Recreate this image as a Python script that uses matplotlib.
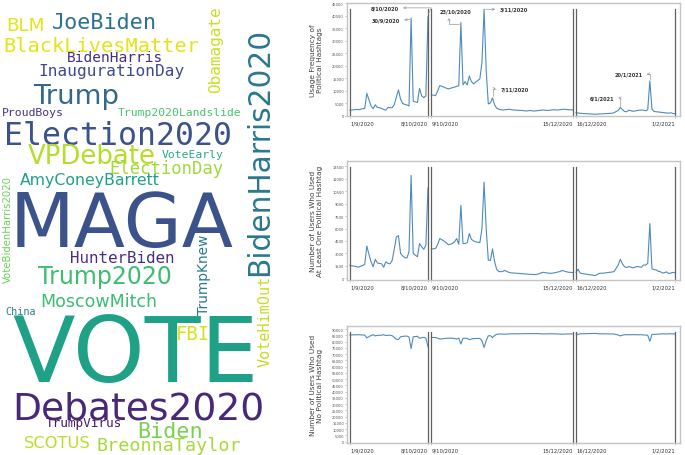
import matplotlib
matplotlib.use("Agg")
import matplotlib.pyplot as plt
from matplotlib.textpath import TextPath
from matplotlib.font_manager import FontProperties
import numpy as np
import pandas as pd

# ---------------- word cloud data ----------------
WORDS = ["JoeBiden", "BLM", "BlackLivesMatter", "BidenHarris", "InaugurationDay",
         "Trump", "Obamagate", "BidenHarris2020", "ProudBoys", "Trump2020Landslide",
         "Election2020", "VPDebate", "VoteEarly", "ElectionDay", "AmyConeyBarrett",
         "VoteBidenHarris2020", "MAGA", "HunterBiden", "Trump2020", "MoscowMitch",
         "China", "TrumpKnew", "VoteHimOut", "VOTE", "FBI", "Debates2020",
         "TrumpVirus", "Biden", "SCOTUS", "BreonnaTaylor"]
WORD_COLORS = ["#2c728e", "#e3e418", "#e5e419", "#472c7a", "#3e4a89",
               "#31688e", "#c8e020", "#2a788e", "#453781", "#4ac16d",
               "#3b528b", "#b5de2b", "#26ad81", "#a0da39", "#1fa088",
               "#6ece58", "#3b528b", "#472d7b", "#3fbc73", "#3dbc74",
               "#27808e", "#2a788e", "#c2df23", "#1fa187", "#d2e21b", "#482878",
               "#481a6c", "#7ad151", "#b8de29", "#a5db36"]
# layout boxes (ink extents) in pixels of the cloud panel: x0, y0, x1, y1, rotation
WORD_BOXES = [(50, 13, 157, 28, 0), (8, 18, 43, 30, 0), (5, 37, 198, 52, 0),
              (62, 52, 167, 62, 0), (25, 65, 197, 79, 0), (23, 85, 128, 108, 0),
              (208, 7, 223, 92, 90), (243, 30, 272, 273, 90), (3, 108, 63, 118, 0),
              (118, 107, 240, 118, 0), (7, 122, 230, 145, 0), (27, 145, 155, 163, 0),
              (162, 150, 223, 160, 0), (105, 162, 230, 177, 0), (20, 173, 160, 189, 0),
              (3, 177, 12, 283, 90), (17, 192, 233, 247, 0), (63, 252, 182, 263, 0),
              (23, 268, 185, 288, 0), (38, 295, 158, 307, 0), (5, 308, 37, 315, 0),
              (198, 235, 211, 315, 90), (257, 278, 270, 367, 90), (13, 317, 253, 380, 0),
              (178, 327, 208, 340, 0), (5, 392, 272, 418, 0), (40, 418, 127, 429, 0),
              (133, 422, 207, 437, 0), (23, 437, 92, 448, 0), (95, 438, 243, 454, 0)]

# ---------------- time series data ----------------
SEG_STARTS = ["2020-09-01", "2020-10-09", "2020-12-16"]
SEG_ENDS = ["2020-10-08", "2020-12-15", "2021-02-01"]
TICK_LABELS = ["1/9/2020", "8/10/2020", "9/10/2020", "15/12/2020", "16/12/2020", "1/2/2021"]

USAGE = [
    [2300, 2400, 2500, 2600, 2500, 2700, 2900, 3000, 9000, 6500,
     4000, 2900, 4500, 3400, 3300, 3000, 2600, 2300, 3400, 3300,
     3300, 4500, 7500, 10400, 6700, 5000, 4600, 4400, 4000, 39000,
     5900, 5600, 5400, 11000, 8000, 7300, 8000, 39500],
    [8400, 8300, 8100, 10000, 12100, 11800, 11500, 11100, 10800, 11000,
     11300, 11500, 11800, 12000, 37200, 12400, 13700, 12400, 15900, 13700,
     12800, 13500, 14100, 14800, 21500, 42500, 18000, 4800, 5200, 7200,
     4400, 3100, 2700, 2500, 2400, 2500, 2600, 2700, 2500, 2400,
     2300, 2300, 2200, 2200, 2100, 2000, 2100, 2200, 2000, 2000,
     2100, 2200, 2300, 2400, 2300, 2200, 2300, 2400, 2500, 2400,
     2400, 2500, 2600, 2700, 2600, 2500, 2500, 2400],
    [1300, 1200, 1100, 1000, 950, 900, 850, 800, 750, 700,
     750, 800, 850, 900, 950, 1000, 1050, 1100, 1300, 1800,
     2200, 3400, 2500, 1800, 1700, 2300, 2100, 1900, 2000, 2200,
     2300, 2400, 2300, 2100, 2500, 14000, 2700, 1800, 1700, 1600,
     1500, 1400, 1300, 1200, 1100, 1300, 1000, 900],
]
USERS_WITH = [
    [1550, 1500, 1470, 1420, 1340, 1450, 1550, 1670, 3900, 2900,
     2000, 1400, 2300, 1850, 1800, 1750, 1340, 2000, 1800, 1750,
     2150, 3500, 5000, 5150, 3000, 2700, 2500, 2450, 3200, 12400,
     3000, 2800, 2600, 4200, 3800, 3500, 4000, 10900],
    [3550, 3550, 3600, 4100, 4800, 4650, 4480, 4300, 4070, 4100,
     4200, 4400, 4800, 4100, 8800, 4200, 4200, 4300, 5400, 4700,
     4500, 4400, 4350, 4300, 6000, 11600, 6000, 2200, 2150, 3550,
     2000, 1050, 820, 800, 850, 950, 800, 700, 650, 640,
     620, 610, 580, 560, 530, 520, 500, 480, 460, 450,
     480, 550, 650, 730, 680, 640, 620, 610, 650, 700,
     760, 820, 940, 880, 800, 730, 720, 700],
    [730, 1100, 620, 580, 530, 500, 450, 420, 380, 330,
     450, 600, 620, 620, 650, 700, 730, 760, 810, 1200,
     1600, 2300, 1750, 1400, 1300, 1420, 1350, 1260, 1350, 1420,
     1380, 1340, 1600, 1600, 1800, 6600, 1150, 1050, 1020, 850,
     800, 620, 700, 780, 560, 650, 720, 650],
]
USERS_WITHOUT = [
    [85250, 85300, 85330, 85380, 85460, 85350, 85250, 85130, 82900, 83900,
     84800, 85400, 84500, 84950, 85000, 85050, 85460, 84800, 85000, 85050,
     84650, 83300, 81800, 81650, 83800, 84100, 84300, 84350, 83600, 74400,
     83800, 84000, 84200, 82600, 83000, 83300, 82800, 75900],
    [83250, 83250, 83200, 82700, 82000, 82150, 82320, 82500, 82730, 82700,
     82600, 82400, 82000, 82700, 78000, 82600, 82600, 82500, 81400, 82100,
     82300, 82400, 82450, 82500, 80800, 75200, 80800, 84600, 84650, 83250,
     84800, 85750, 85980, 86000, 85950, 85850, 86000, 86100, 86150, 86160,
     86180, 86190, 86220, 86240, 86270, 86280, 86300, 86320, 86340, 86350,
     86320, 86250, 86150, 86070, 86120, 86160, 86180, 86190, 86150, 86100,
     86040, 85980, 85860, 85920, 86000, 86070, 86080, 86100],
    [86070, 85700, 86180, 86220, 86270, 86300, 86350, 86380, 86420, 86470,
     86350, 86200, 86180, 86180, 86150, 86100, 86070, 86040, 85990, 85600,
     85200, 84500, 85050, 85400, 85500, 85380, 85450, 85540, 85450, 85380,
     85420, 85460, 85200, 85200, 85000, 80200, 85650, 85750, 85780, 85950,
     86000, 86180, 86100, 86020, 86240, 86150, 86080, 86150],
]

# annotations on the usage panel: label, segment, date, value at arrow tip
ANNOT_LABELS = ["8/10/2020", "30/9/2020", "23/10/2020", "3/11/2020", "7/11/2020", "6/1/2021", "20/1/2021"]
ANNOT_SEGS = [0, 0, 1, 1, 1, 2, 2]
ANNOT_DATES = ["2020-10-08", "2020-09-30", "2020-10-23", "2020-11-03", "2020-11-07", "2021-01-06", "2021-01-20"]
ANNOT_VALUES = [40300, 38600, 36500, 42500, 7600, 3600, 14000]

LINE_COL = "#4d8bbd"
VLINE_COL = "#606060"
SPINE_COL = "#c4c4c4"
SEG_GAP = 0.6   # extra days of blank space between the three periods
W, H, DPI = 685, 456, 100

fig = plt.figure(figsize=(W / DPI, H / DPI), dpi=DPI)

# ---------------- word cloud ----------------
axw = fig.add_axes([0, 0, 280 / W, 1])
axw.set_xlim(0, 280)
axw.set_ylim(H, 0)
axw.axis("off")


def ink(word, family):
    e = TextPath((0, 0), word, size=1, prop=FontProperties(family=family)).get_extents()
    return e.x0, e.y0, e.x1, e.y1


for word, col, (x0, y0, x1, y1, rot) in zip(WORDS, WORD_COLORS, WORD_BOXES):
    along, across = (x1 - x0, y1 - y0) if rot == 0 else (y1 - y0, x1 - x0)
    best = None
    for fam in ["DejaVu Sans", "DejaVu Sans Mono"]:
        ex0, ey0, ex1, ey1 = ink(word, fam)
        err = abs(np.log(((ex1 - ex0) / (ey1 - ey0)) / (along / across)))
        if best is None or err < best[0]:
            best = (err, fam, ex0, ey0, ex1, ey1)
    _, fam, ex0, ey0, ex1, ey1 = best
    # fit the length of the word, letting it run a little taller than the box
    s = min(along / (ex1 - ex0), 1.12 * across / (ey1 - ey0))   # px per font unit
    cx, cy = (ex0 + ex1) / 2 * s, (ey0 + ey1) / 2 * s
    bx, by = (x0 + x1) / 2, H - (y0 + y1) / 2             # box centre, display y up
    if rot == 0:
        ax_, ay_ = bx - cx, by - cy
    else:
        ax_, ay_ = bx + cy, by - cx
    axw.text(ax_, H - ay_, word, fontsize=s * 72 / DPI, color=col, family=fam,
             rotation=rot, rotation_mode="anchor", ha="left", va="baseline")

# ---------------- time series panels ----------------
t0 = pd.Timestamp(SEG_STARTS[0])


def xpos(date, seg):
    return (pd.Timestamp(date) - t0).days + SEG_GAP * seg


seg_x = [np.array([xpos(d, k) for d in pd.date_range(s, e)])
         for k, (s, e) in enumerate(zip(SEG_STARTS, SEG_ENDS))]
tick_x = []
for k in range(3):
    tick_x += [seg_x[k][0], seg_x[k][-1]]

panels = [
    ([347 / W, (H - 117) / H, 333 / W, 113 / H], USAGE, (0, 45000), range(0, 45001, 5000),
     "Usage Frequency of\nPolitical Hashtags"),
    ([347 / W, (H - 281) / H, 333 / W, 119 / H], USERS_WITH, (-200, 14140), range(0, 13501, 1500),
     "Number of Users Who Used\nAt Least One Political Hashtag"),
    ([347 / W, 12 / H, 333 / W, 117 / H], USERS_WITHOUT, (-1000, 92400), range(0, 90001, 5000),
     "Number of Users Who Used\nNo Political Hashtag"),
]
tick_ha = ["left", "right", "left", "right", "left", "right"]
axes = []
for rect, series, ylim, yticks, ylabel in panels:
    ax = fig.add_axes(rect)
    for xs, vals in zip(seg_x, series):
        ax.plot(xs, vals, color=LINE_COL, lw=0.8)
    for xv in tick_x:
        ax.axvline(xv, ymin=0, ymax=0.95, color=VLINE_COL, lw=0.9)
    ax.set_xlim(tick_x[0] - 1.4, tick_x[-1] + 2.3)
    ax.set_ylim(*ylim)
    ax.set_yticks(list(yticks))
    ax.set_xticks(tick_x)
    ax.set_xticklabels(TICK_LABELS)
    for lab, ha in zip(ax.get_xticklabels(), tick_ha):
        lab.set_ha(ha)
    ax.tick_params(axis="x", labelsize=3.8, length=1.5, width=0.4, color="#999999",
                   labelcolor="#333333", pad=1.5)
    ax.tick_params(axis="y", labelsize=2.6, length=1.2, width=0.4, color="#999999",
                   labelcolor="#555555", pad=1)
    for sp in ax.spines.values():
        sp.set_color(SPINE_COL)
        sp.set_linewidth(1.0)
    ax.set_ylabel(ylabel, fontsize=5.3, color="#404040", linespacing=1.15)
    ax.yaxis.set_label_coords(-0.072, 0.5)
    axes.append(ax)

# annotations on the usage panel
ax0 = axes[0]
# offsets (points) of the text anchor from the arrow tip, alignment, connector
annot_style = [
    ((-21, 5), "right", "angle,angleA=0,angleB=65,rad=0", (1, 0.5)),
    ((-8, -1), "right", "arc3,rad=0", (1, 0.5)),
    ((-4, 9.5), "center", "angle,angleA=90,angleB=0,rad=0", (0.3, 0)),
    ((11, 0), "left", "arc3,rad=0", (0, 0.5)),
    ((5.5, 6), "left", "angle,angleA=0,angleB=90,rad=0", (0, 0.5)),
    ((-4.5, 6.5), "right", "angle,angleA=0,angleB=90,rad=0", (1, 0.5)),
    ((-5.3, 5), "right", "angle,angleA=0,angleB=90,rad=0", (1, 0.5)),
]
for lab, k, d, v, (off, ha, cs, rp) in zip(ANNOT_LABELS, ANNOT_SEGS, ANNOT_DATES,
                                           ANNOT_VALUES, annot_style):
    ax0.annotate(lab, xy=(xpos(d, k), v), xytext=off, textcoords="offset points",
                 ha=ha, va="center", fontsize=3.6, fontweight="bold", color="#333333",
                 arrowprops=dict(arrowstyle="<-", color="#9a9a9a", lw=0.5,
                                 connectionstyle=cs, shrinkA=1, shrinkB=1,
                                 mutation_scale=4, relpos=rp))

fig.savefig("out.png", dpi=DPI)
